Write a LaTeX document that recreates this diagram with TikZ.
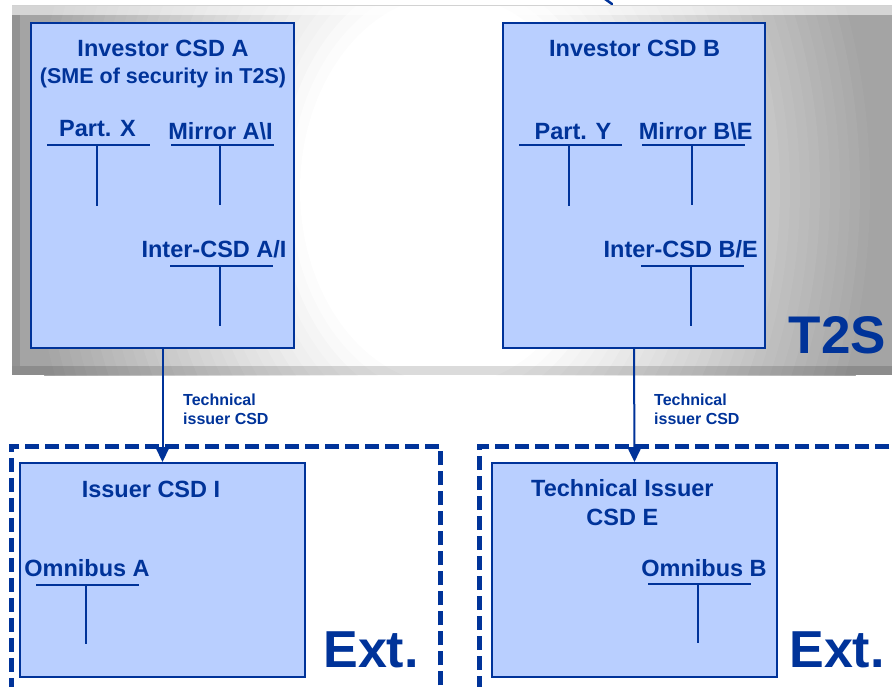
\documentclass[tikz,border=0pt]{standalone}
\usepackage{fontspec}
\setmainfont{Liberation Sans}
\usetikzlibrary{arrows.meta}
\definecolor{csdblue}{RGB}{0,51,153}
\definecolor{csdfill}{RGB}{185,207,255}
\definecolor{panelgray}{RGB}{164,164,164}
\begin{document}
\begin{tikzpicture}[x=1pt,y=-1pt,
  csd/.style={draw=csdblue, line width=2pt, fill=csdfill, inner sep=0pt, anchor=north west},
  lbl/.style={text=csdblue, font=\bfseries\fontsize{23.5}{28.3}\selectfont, inner sep=0pt, anchor=base},
  sme/.style={text=csdblue, font=\bfseries\fontsize{21.5}{27}\selectfont, inner sep=0pt, anchor=base},
  tacc/.style={draw=csdblue, line width=2pt},
  extbox/.style={draw=csdblue, line width=4.5pt, dash pattern=on 14pt off 6pt, inner sep=0pt, anchor=north west},
  big/.style={text=csdblue, font=\bfseries\fontsize{52}{60}\selectfont, inner sep=0pt, anchor=base},
  small/.style={text=csdblue, font=\bfseries\fontsize{16}{18.5}\selectfont, inner sep=0pt, align=left, anchor=base west},
  conn/.style={draw=csdblue, line width=2pt, -{Triangle[length=15pt,width=14pt]}}
]
\useasboundingbox (0,0) rectangle (892,686);
\begin{scope}
\clip (0,0) rectangle (892,686);
% T2S panel: elliptical gray-to-white gradient
\begin{scope}
\clip (12,5) rectangle (900,375);
\fill[panelgray] (12,5) rectangle (900,375);
\foreach \k in {0,...,28}{
  \pgfmathsetmacro{\rr}{430-10*\k}
  \pgfmathsetmacro{\ry}{1.3*\rr}
  \pgfmathsetmacro{\pp}{(\rr-150)/2.8}
  \fill[panelgray!\pp!white] (450,190) ellipse [x radius=\rr, y radius=\ry];
}
\end{scope}
\fill[white, opacity=0.55] (12,5) rectangle (900,15);
\fill[black, opacity=0.10] (12,15) rectangle (20,366);
\fill[black, opacity=0.14] (12,366) rectangle (900,375);
\draw[gray!35, line width=0.8pt] (12,5) -- (900,5);
\draw[csdblue, line width=2.5pt, line cap=round] (605,-1) -- (612,4);
% investor boxes
\node[csd, minimum width=263pt, minimum height=325pt] (boxA) at (30,22) {};
\node[csd, minimum width=262pt, minimum height=325pt] (boxB) at (502,22) {};
% external dashed areas
\node[extbox, minimum width=429pt, minimum height=250pt] (extI) at (9,444) {};
\node[extbox, minimum width=440pt, minimum height=250pt] (extE) at (477,444) {};
% issuer boxes
\node[csd, minimum width=285pt, minimum height=214pt] (issI) at (19,462) {};
\node[csd, minimum width=285pt, minimum height=214pt] (issE) at (491,462) {};
% connectors
\draw[conn] (boxA.south) -- (issI.north);
\draw[conn] (boxB.south) -- (issE.north);
\node[small] (techA) at (183,424) {Technical\\issuer CSD};
\node[small] (techB) at (654,424) {Technical\\issuer CSD};
% box A labels
\node[lbl] (tA) at (163,56) {Investor CSD A};
\node[sme] (tA2) at (163,83) {(SME of security in T2S)};
\node[lbl] (px) at (97.5,136.5) {Part. X};
\node[lbl] (mA) at (220.5,139) {Mirror A\textbackslash I};
\node[lbl] (iA) at (214,257) {Inter-CSD A/I};
\draw[tacc] (47,145) -- (150,145) (97,145) -- (97,206);
\draw[tacc] (171,145) -- (274,145) (220,145) -- (220,205);
\draw[tacc] (170,266) -- (273,266) (220,266) -- (220,326);
% box B labels
\node[lbl] (tB) at (634.7,56) {Investor CSD B};
\node[lbl] (py) at (573,139) {Part. Y};
\node[lbl] (mB) at (695.7,139) {Mirror B\textbackslash E};
\node[lbl] (iB) at (680.7,257) {Inter-CSD B/E};
\draw[tacc] (519,145) -- (622,145) (569,145) -- (569,206);
\draw[tacc] (642,145) -- (745,145) (692,145) -- (692,205);
\draw[tacc] (641,266) -- (744,266) (691,266) -- (691,326);
% issuer I
\node[lbl] (tI) at (151,497) {Issuer CSD I};
\node[lbl] (oA) at (87,576) {Omnibus A};
\draw[tacc] (36,585) -- (139,585) (86,585) -- (86,644);
% issuer E
\node[lbl, align=center] (tE) at (622.4,525) {Technical Issuer\\CSD E};
\node[lbl] (oB) at (704,576) {Omnibus B};
\draw[tacc] (648,584) -- (751,584) (698,584) -- (698,643);
% big labels
\node[big, font=\bfseries\fontsize{53}{60}\selectfont] (t2s) at (837.5,353) {T2S};
\node[big] (extL) at (371,667) {Ext.};
\node[big] (extR) at (837,667) {Ext.};
\end{scope}
\end{tikzpicture}
\end{document}
